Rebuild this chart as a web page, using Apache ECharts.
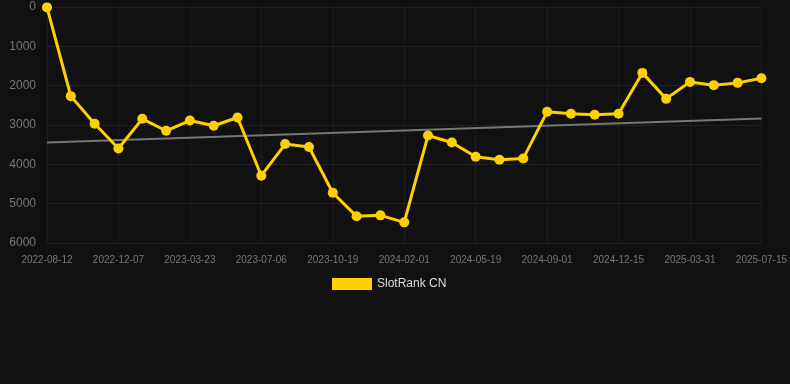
<!DOCTYPE html>
<html>
<head>
<meta charset="utf-8">
<script src="https://cdn.jsdelivr.net/npm/echarts@6/dist/echarts.min.js"></script>
<style>
html, body { margin: 0; padding: 0; background: #111111; }
#chart { width: 790px; height: 384px; }
</style>
</head>
<body>
<div id="chart"></div>
<script>
// dates of each rank sample
var dates = [
	'2022-08-12', '2022-09-20', '2022-10-29', '2022-12-07', '2023-01-11', '2023-02-15',
	'2023-03-23', '2023-04-27', '2023-06-01', '2023-07-06', '2023-08-10', '2023-09-14',
	'2023-10-19', '2023-11-23', '2023-12-28', '2024-02-01', '2024-03-08', '2024-04-13',
	'2024-05-19', '2024-06-22', '2024-07-27', '2024-09-01', '2024-10-05', '2024-11-09',
	'2024-12-15', '2025-01-18', '2025-02-22', '2025-03-31', '2025-05-05', '2025-06-09',
	'2025-07-15'
];
var ranks = [
	10, 2266, 2970, 3596, 2843, 3147,
	2886, 3020, 2809, 4289, 3485, 3561,
	4721, 5322, 5297, 5475, 3266, 3444,
	3807, 3883, 3850, 2665, 2716, 2741,
	2716, 1675, 2335, 1904, 1987, 1929,
	1810
];
// trend line end points (first and last sample)
var trendStart = 3444;
var trendEnd = 2835;

var trend = [];
for (var i = 0; i < dates.length; i++) {
	trend.push(null);
}
trend[0] = trendStart;
trend[dates.length - 1] = trendEnd;

var chart = echarts.init(document.getElementById('chart'));
var option = {
	backgroundColor: '#111111',
	animation: false,
	grid: {
		left: 47,
		right: 28,
		top: 7,
		bottom: 141
	},
	legend: {
		top: 273,
		left: 327,
		itemWidth: 40,
		itemHeight: 12,
		itemGap: 10,
		data: [{ name: 'SlotRank CN', icon: 'rect' }],
		textStyle: { color: '#dddddd', fontSize: 12, fontFamily: 'Liberation Sans, Arial, sans-serif' }
	},
	xAxis: {
		type: 'category',
		boundaryGap: false,
		data: dates,
		axisLine: { show: false },
		axisTick: { show: false },
		axisLabel: {
			interval: 2,
			color: '#777777',
			fontSize: 10,
			margin: 12,
			fontFamily: 'Liberation Sans, Arial, sans-serif'
		},
		splitLine: {
			show: true,
			interval: 2,
			lineStyle: { color: '#1e1e1e', width: 1 }
		}
	},
	yAxis: {
		type: 'value',
		inverse: true,
		min: 0,
		max: 6000,
		interval: 1000,
		axisLine: { show: false },
		axisTick: { show: false },
		axisLabel: {
			color: '#777777',
			fontSize: 12,
			margin: 11,
			fontFamily: 'Liberation Sans, Arial, sans-serif',
			formatter: function (v) { return String(v); }
		},
		splitLine: {
			lineStyle: { color: '#222222', width: 1 }
		}
	},
	series: [
		{
			name: 'SlotRank CN',
			type: 'line',
			data: ranks,
			color: '#FFD000',
			symbol: 'circle',
			symbolSize: 10,
			lineStyle: { width: 3, color: '#FFD000' },
			itemStyle: { color: '#FFD000' },
			z: 3
		},
		{
			name: 'trend',
			type: 'line',
			data: trend,
			connectNulls: true,
			symbol: 'none',
			lineStyle: { width: 2, color: '#777777' },
			z: 2
		}
	]
};
chart.setOption(option);
</script>
</body>
</html>
